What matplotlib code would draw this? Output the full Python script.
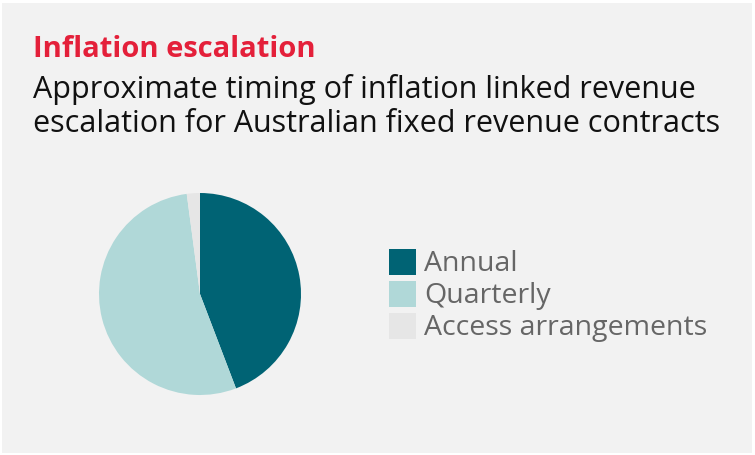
import matplotlib.pyplot as plt
from matplotlib.patches import Rectangle

labels = ['Annual', 'Quarterly', 'Access arrangements']
shares = [44.2, 53.7, 2.1]
colors = ['#006374', '#b0d8d8', '#e6e6e6']

title = 'Inflation escalation'
subtitle = 'Approximate timing of inflation linked revenue\nescalation for Australian fixed revenue contracts'

W, H = 755, 455
fig = plt.figure(figsize=(W / 100, H / 100), dpi=100)
fig.patch.set_facecolor('white')
fig.patches.append(Rectangle((2 / W, 2 / H), 750 / W, 450 / H, transform=fig.transFigure,
                             facecolor='#f2f2f2', edgecolor='none', zorder=-10))

fig.text(33 / W, 1 - 57 / H, title, color='#e4203a', fontsize=21, fontweight='bold',
         family='Open Sans', va='baseline', ha='left')
fig.text(33 / W, 1 - 98 / H, subtitle.split('\n')[0], color='#111111', fontsize=22,
         family='Open Sans', va='baseline', ha='left')
fig.text(33 / W, 1 - 132 / H, subtitle.split('\n')[1], color='#111111', fontsize=22,
         family='Open Sans', va='baseline', ha='left')

# pie
cx, cy, r = 200, 294, 101
ax = fig.add_axes([(cx - r) / W, 1 - (cy + r) / H, 2 * r / W, 2 * r / H])
wedges, _ = ax.pie(shares, colors=colors, startangle=90, counterclock=False, radius=1)
ax.set_xlim(-1, 1)
ax.set_ylim(-1, 1)
ax.set_aspect('equal')
ax.axis('off')

# legend drawn by hand so boxes and labels sit where the reference has them
for i, (lab, col) in enumerate(zip(labels, colors)):
    top = 249 + 32 * i
    fig.patches.append(Rectangle((389 / W, 1 - (top + 26) / H), 27 / W, 26 / H,
                                 transform=fig.transFigure, facecolor=col, edgecolor='none'))
    fig.text(424 / W, 1 - (top + 22) / H, lab, color='#666666', fontsize=20.5,
             family='Open Sans', va='baseline', ha='left')

fig.savefig('out.png', dpi=100)
